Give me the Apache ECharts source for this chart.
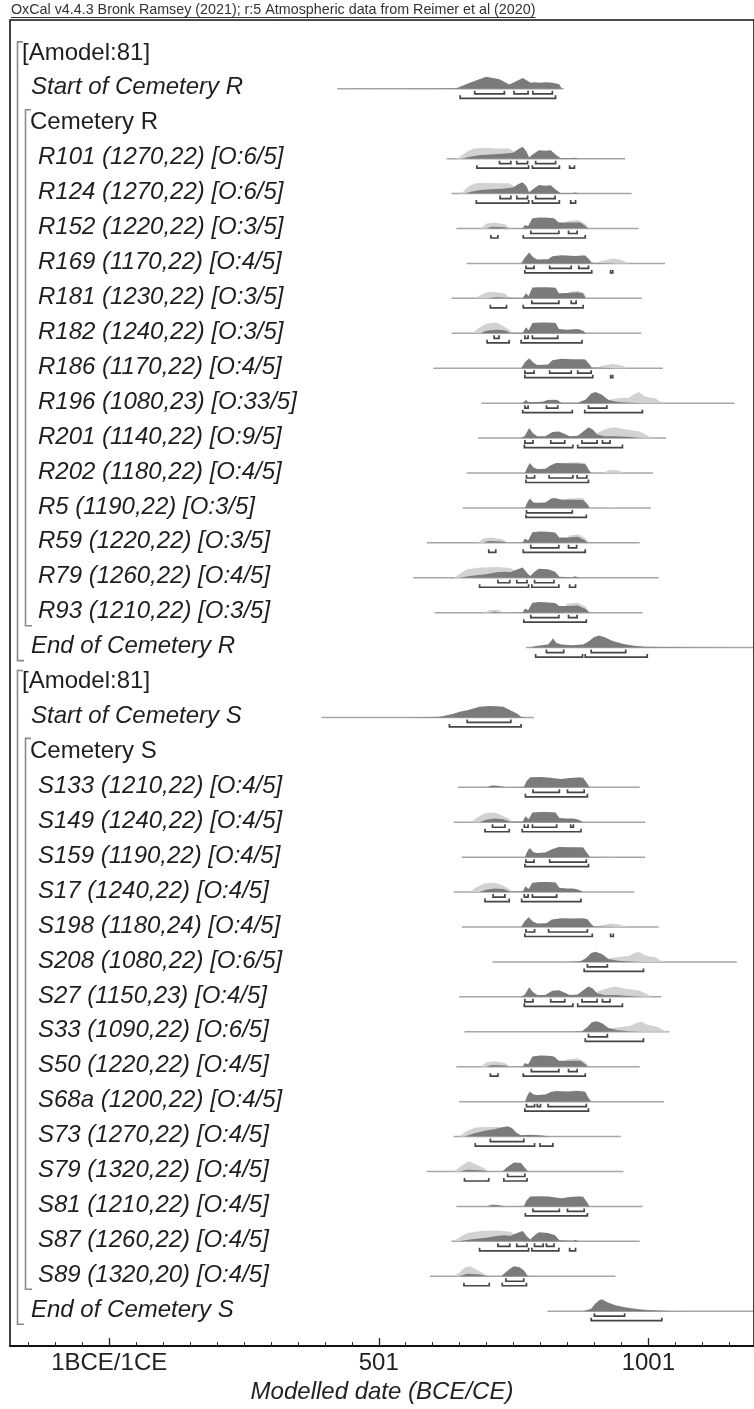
<!DOCTYPE html>
<html><head><meta charset="utf-8">
<script src="https://cdn.jsdelivr.net/npm/echarts@6/dist/echarts.min.js"></script>
<style>html,body{margin:0;padding:0;background:#fff}#c{width:754px;height:1409px}</style>
</head><body><div id="c"></div>
<script>
// ---------------- DATA ----------------
const titleText = 'OxCal v4.4.3 Bronk Ramsey (2021); r:5 Atmospheric data from Reimer et al (2020)';
const axisTitle = 'Modelled date (BCE/CE)';
const tickMajor = [1, 501, 1001];
const tickLabels = ['1BCE/1CE', '501', '1001'];
const tickMinor = [-149,-99,-49,51,101,151,201,251,301,351,401,451,551,601,651,701,751,801,851,901,951,1051,1101,1151];

const rowLabels = [
  '[Amodel:81]','Start of Cemetery R','Cemetery R',
  'R101 (1270,22) [O:6/5]','R124 (1270,22) [O:6/5]','R152 (1220,22) [O:3/5]','R169 (1170,22) [O:4/5]',
  'R181 (1230,22) [O:3/5]','R182 (1240,22) [O:3/5]','R186 (1170,22) [O:4/5]','R196 (1080,23) [O:33/5]',
  'R201 (1140,22) [O:9/5]','R202 (1180,22) [O:4/5]','R5 (1190,22) [O:3/5]','R59 (1220,22) [O:3/5]',
  'R79 (1260,22) [O:4/5]','R93 (1210,22) [O:3/5]','End of Cemetery R',
  '[Amodel:81]','Start of Cemetery S','Cemetery S',
  'S133 (1210,22) [O:4/5]','S149 (1240,22) [O:4/5]','S159 (1190,22) [O:4/5]','S17 (1240,22) [O:4/5]',
  'S198 (1180,24) [O:4/5]','S208 (1080,22) [O:6/5]','S27 (1150,23) [O:4/5]','S33 (1090,22) [O:6/5]',
  'S50 (1220,22) [O:4/5]','S68a (1200,22) [O:4/5]','S73 (1270,22) [O:4/5]','S79 (1320,22) [O:4/5]',
  'S81 (1210,22) [O:4/5]','S87 (1260,22) [O:4/5]','S89 (1320,20) [O:4/5]','End of Cemetery S'
];
// g = model group, p = phase, b = boundary, d = dated sample
const rowKinds = ['g','b','p','d','d','d','d','d','d','d','d','d','d','d','d','d','d','b',
                  'g','b','p','d','d','d','d','d','d','d','d','d','d','d','d','d','d','d','b'];
const groupSpans = [[0,17],[18,36]];
const phaseSpans = [[2,16],[20,35]];

// extent of each plotted distribution (years)
const ranges = {
  1:[424,844], 3:[627,958], 4:[636,970], 5:[645,983], 6:[664,1032], 7:[636,989], 8:[636,988], 9:[602,1028],
  10:[691,1161], 11:[685,1034], 12:[664,1010], 13:[657,1006], 14:[590,985], 15:[565,1020], 16:[605,990],
  17:[774,1195], 19:[395,789], 21:[648,985], 22:[640,995], 23:[655,995], 24:[640,975], 25:[655,1020],
  26:[712,1165], 27:[650,1025], 28:[660,1040], 29:[645,985], 30:[650,1030], 31:[640,950], 32:[590,955],
  33:[645,990], 34:[636,985], 35:[596,940], 36:[814,1195]
};

// unmodelled (likelihood) densities: [year, relative height]
const lightDist = {
  3:[[640,0],[648,0.05],[665,0.6],[678,0.85],[700,0.9],[720,0.85],[743,0.85],[755,0.5],[765,0.1],[775,0]],
  4:[[645,0],[655,0.05],[668,0.6],[680,0.85],[700,0.88],[720,0.85],[743,0.85],[755,0.5],[765,0.1],[775,0]],
  5:[[690,0],[700,0.4],[715,0.5],[735,0.35],[745,0],[840,0],[850,0.6],[870,0.7],[884,0.4],[890,0]],
  6:[[900,0],[915,0.2],[935,0.4],[950,0.3],[965,0]],
  7:[[680,0],[691,0.3],[705,0.55],[720,0.5],[735,0.4],[745,0],[845,0],[855,0.55],[870,0.6],[880,0.5],[888,0]],
  8:[[675,0],[685,0.4],[700,0.8],[719,0.9],[730,0.65],[743,0.3],[750,0]],
  9:[[900,0],[915,0.2],[935,0.35],[950,0.25],[965,0]],
  10:[[915,0],[930,0.3],[950,0.42],[965,0.45],[975,0.75],[983,0.92],[995,0.55],[1005,0.45],[1013,0.42],[1022,0.15],[1030,0]],
  11:[[895,0],[905,0.4],[920,0.7],[932,0.85],[940,0.9],[955,0.75],[970,0.65],[985,0.55],[1000,0.2],[1008,0]],
  12:[[840,0],[850,0.85],[870,0.9],[884,0.8],[892,0],[915,0],[930,0.25],[945,0.2],[955,0]],
  13:[[840,0],[850,0.75],[870,0.83],[880,0.8],[890,0.2],[895,0],[925,0],[935,0.08],[945,0]],
  14:[[685,0],[695,0.35],[712,0.45],[730,0.3],[742,0],[845,0],[855,0.6],[872,0.7],[884,0.4],[890,0]],
  15:[[640,0],[650,0.3],[665,0.7],[690,0.85],[720,0.9],[745,0.8],[760,0.4],[770,0]],
  16:[[695,0],[705,0.2],[720,0.25],[735,0],[840,0],[850,0.75],[870,0.82],[885,0.5],[892,0]],
  21:[[700,0],[710,0.15],[722,0.12],[730,0],[860,0],[870,0.85],[880,0.8],[888,0]],
  22:[[672,0],[683,0.4],[698,0.75],[715,0.8],[728,0.6],[742,0.3],[750,0]],
  23:[[850,0],[860,0.85],[880,0.83],[892,0],[920,0],[930,0.08],[940,0]],
  24:[[670,0],[682,0.4],[697,0.72],[715,0.78],[728,0.6],[742,0.3],[750,0]],
  25:[[900,0],[915,0.15],[932,0.3],[948,0.2],[962,0]],
  26:[[915,0],[930,0.3],[950,0.42],[965,0.5],[975,0.75],[983,0.85],[995,0.55],[1005,0.45],[1013,0.4],[1022,0.15],[1030,0]],
  27:[[895,0],[905,0.4],[920,0.65],[932,0.8],[940,0.85],[955,0.7],[970,0.6],[985,0.5],[1000,0.2],[1008,0]],
  28:[[915,0],[930,0.3],[950,0.4],[968,0.5],[978,0.7],[988,0.85],[998,0.6],[1010,0.5],[1020,0.35],[1030,0.1],[1040,0]],
  29:[[690,0],[700,0.35],[715,0.45],[735,0.3],[745,0],[840,0],[850,0.6],[870,0.7],[884,0.4],[890,0]],
  30:[[850,0],[860,0.9],[880,0.9],[890,0.3],[895,0]],
  31:[[650,0],[662,0.4],[680,0.75],[700,0.8],[720,0.8],[740,0.75],[750,0.4],[760,0]],
  32:[[640,0],[655,0.5],[668,0.85],[680,0.6],[695,0.3],[705,0],[730,0],[745,0.4],[760,0.5],[770,0.2],[778,0]],
  33:[[700,0],[710,0.15],[722,0.12],[730,0],[860,0],[870,0.85],[880,0.8],[888,0]],
  34:[[640,0],[650,0.3],[665,0.7],[690,0.85],[720,0.9],[745,0.8],[760,0.4],[770,0]],
  35:[[640,0],[650,0.3],[660,0.7],[670,0.83],[680,0.6],[690,0.35],[700,0.1],[710,0]]
};

// modelled (posterior) densities: [year, relative height]
const darkDist = {
  1:[[440,0],[600,0.02],[645,0.05],[670,0.5],[700,1.0],[725,0.8],[743,0.35],[755,0.6],[768,0.9],[775,0.7],[783,0.5],[790,0.55],[800,0.5],[812,0.55],[823,0.5],[835,0.4],[841,0]],
  3:[[655,0],[670,0.15],[690,0.3],[710,0.35],[730,0.4],[750,0.5],[760,0.8],[768,0.98],[775,0.6],[780,0.1],[785,0.3],[798,0.7],[810,0.65],[820,0.7],[830,0.3],[838,0.05],[860,0.05],[866,0.08],[872,0]],
  4:[[660,0],[672,0.15],[690,0.3],[710,0.35],[730,0.4],[750,0.5],[760,0.8],[768,0.95],[775,0.6],[780,0.1],[785,0.3],[798,0.72],[810,0.65],[820,0.7],[830,0.3],[838,0.05],[860,0.05],[866,0.08],[872,0]],
  5:[[700,0],[710,0.15],[735,0.1],[745,0],[768,0.02],[772,0.3],[778,0.2],[786,0.85],[800,0.92],[815,0.9],[826,0.85],[835,0.5],[845,0.5],[860,0.5],[875,0.5],[884,0.2],[890,0]],
  6:[[765,0],[772,0.5],[780,0.9],[788,0.5],[795,0.33],[815,0.35],[823,0.6],[840,0.68],[866,0.62],[878,0.65],[884,0.65],[892,0.3],[896,0.05],[930,0.02],[940,0]],
  7:[[700,0],[720,0.1],[740,0.05],[768,0.02],[774,0.42],[779,0.2],[786,0.9],[800,0.92],[815,0.92],[829,0.88],[835,0.42],[850,0.45],[870,0.5],[880,0.4],[885,0]],
  8:[[690,0],[700,0.2],[719,0.3],[735,0.25],[745,0.05],[768,0.05],[774,0.5],[779,0.25],[786,0.85],[800,0.9],[815,0.9],[829,0.85],[835,0.35],[850,0.3],[870,0.35],[880,0.2],[885,0]],
  9:[[765,0],[772,0.5],[780,0.83],[788,0.45],[795,0.27],[815,0.3],[823,0.65],[840,0.78],[860,0.75],[878,0.75],[884,0.72],[892,0.3],[896,0.05],[930,0.02],[940,0]],
  10:[[765,0],[770,0.1],[774,0.28],[778,0.1],[790,0.1],[805,0.12],[814,0.25],[825,0.27],[832,0.25],[840,0.03],[870,0.03],[885,0.3],[895,0.8],[903,0.92],[915,0.7],[927,0.25],[945,0.1],[960,0.05],[990,0]],
  11:[[765,0],[772,0.2],[780,0.83],[787,0.4],[795,0.15],[810,0.15],[823,0.5],[835,0.55],[843,0.4],[855,0.15],[870,0.2],[882,0.6],[890,0.9],[898,0.7],[906,0.3],[920,0.15],[940,0.15],[960,0.1],[990,0]],
  12:[[772,0],[776,0.4],[781,0.83],[788,0.45],[795,0.33],[810,0.35],[820,0.65],[830,0.83],[850,0.8],[870,0.78],[884,0.75],[890,0.3],[895,0]],
  13:[[772,0],[776,0.4],[781,0.78],[788,0.45],[795,0.42],[810,0.45],[820,0.75],[826,0.83],[840,0.7],[860,0.68],[880,0.65],[888,0.3],[892,0]],
  14:[[695,0],[705,0.15],[730,0.12],[742,0],[768,0.02],[772,0.35],[778,0.2],[786,0.88],[800,0.95],[815,0.92],[828,0.85],[836,0.45],[850,0.45],[870,0.5],[884,0.2],[890,0]],
  15:[[650,0],[670,0.15],[700,0.3],[720,0.45],[735,0.5],[745,0.45],[755,0.65],[768,0.85],[776,0.4],[782,0.15],[790,0.5],[798,0.75],[815,0.7],[828,0.5],[836,0.08],[860,0.05],[866,0.12],[872,0]],
  16:[[705,0],[715,0.08],[735,0],[768,0.02],[772,0.35],[778,0.2],[786,0.82],[800,0.88],[815,0.85],[828,0.8],[836,0.55],[850,0.55],[870,0.6],[885,0.3],[892,0]],
  17:[[780,0],[795,0.15],[815,0.25],[820,0.5],[824,0.78],[830,0.4],[840,0.25],[860,0.2],[880,0.25],[890,0.5],[900,0.85],[909,1.0],[920,0.85],[935,0.55],[955,0.3],[975,0.15],[995,0.08],[1030,0.04],[1080,0.02],[1150,0.01],[1190,0]],
  19:[[560,0],[614,0.05],[640,0.3],[651,0.48],[665,0.6],[688,0.88],[705,0.95],[720,0.92],[732,0.88],[745,0.6],[758,0.3],[765,0.05],[775,0]],
  21:[[700,0],[712,0.14],[725,0.1],[735,0],[770,0.02],[775,0.5],[782,0.83],[800,0.85],[815,0.82],[826,0.75],[840,0.68],[855,0.78],[870,0.82],[880,0.8],[888,0.3],[892,0]],
  22:[[688,0],[700,0.2],[716,0.3],[732,0.25],[744,0.05],[768,0.05],[773,0.5],[779,0.25],[786,0.8],[800,0.85],[815,0.85],[829,0.8],[836,0.35],[850,0.3],[862,0.3],[872,0.2],[880,0]],
  23:[[772,0],[776,0.45],[781,0.75],[788,0.4],[795,0.35],[810,0.38],[822,0.65],[835,0.85],[860,0.82],[880,0.8],[888,0.3],[893,0]],
  24:[[688,0],[700,0.2],[716,0.3],[732,0.25],[744,0.05],[768,0.05],[773,0.48],[779,0.25],[786,0.78],[800,0.83],[815,0.83],[829,0.8],[836,0.35],[850,0.3],[862,0.3],[872,0.2],[880,0]],
  25:[[765,0],[772,0.5],[779,0.8],[787,0.45],[795,0.3],[812,0.32],[822,0.62],[840,0.72],[860,0.7],[880,0.72],[888,0.65],[895,0.25],[900,0.04],[930,0.03],[940,0]],
  26:[[850,0],[875,0.05],[885,0.3],[895,0.75],[903,0.85],[915,0.65],[927,0.25],[945,0.1],[960,0.05],[990,0]],
  27:[[765,0],[772,0.2],[780,0.8],[787,0.4],[795,0.15],[810,0.15],[823,0.5],[835,0.55],[843,0.4],[855,0.15],[870,0.2],[882,0.6],[890,0.85],[898,0.7],[906,0.3],[920,0.15],[940,0.15],[960,0.1],[990,0]],
  28:[[860,0],[878,0.05],[888,0.4],[896,0.8],[905,0.88],[915,0.7],[928,0.3],[945,0.12],[965,0.05],[990,0]],
  29:[[700,0],[710,0.15],[735,0.1],[745,0],[768,0.02],[772,0.3],[778,0.2],[786,0.85],[800,0.92],[815,0.9],[826,0.85],[835,0.5],[845,0.5],[860,0.5],[875,0.5],[884,0.2],[890,0]],
  30:[[772,0],[776,0.45],[781,0.85],[788,0.6],[795,0.55],[810,0.6],[820,0.8],[830,0.88],[850,0.85],[870,0.88],[884,0.82],[890,0.3],[895,0]],
  31:[[660,0],[680,0.3],[700,0.5],[715,0.6],[728,0.75],[740,0.85],[748,0.7],[757,0.3],[765,0.1],[780,0.15],[800,0.1],[820,0]],
  32:[[650,0],[665,0.15],[690,0.1],[710,0],[730,0],[740,0.4],[752,0.75],[765,0.7],[772,0.3],[778,0]],
  33:[[700,0],[712,0.14],[725,0.1],[735,0],[770,0.02],[775,0.5],[782,0.83],[800,0.85],[815,0.82],[826,0.75],[840,0.68],[855,0.78],[870,0.82],[880,0.8],[888,0.3],[892,0]],
  34:[[650,0],[670,0.15],[700,0.3],[720,0.45],[735,0.5],[745,0.45],[755,0.65],[768,0.85],[776,0.4],[782,0.15],[790,0.5],[798,0.75],[815,0.7],[828,0.5],[836,0.08],[860,0.05],[866,0.12],[872,0]],
  35:[[650,0],[665,0.2],[688,0.15],[700,0.05],[712,0],[728,0],[737,0.35],[745,0.65],[752,0.83],[762,0.75],[770,0.5],[776,0.1],[780,0]],
  36:[[880,0],[895,0.2],[902,0.6],[910,0.9],[915,0.98],[925,0.75],[940,0.5],[960,0.3],[980,0.18],[1000,0.1],[1020,0.05],[1040,0.02],[1080,0]]
};

// 68.3% and 95.4% highest posterior density ranges
const range68 = {
  1:[[679,734],[752,778],[787,823]], 3:[[725,746],[757,777],[792,829]], 4:[[726,746],[757,777],[792,828]],
  5:[[783,835],[853,869]], 6:[[774,789],[818,858],[872,890]], 7:[[785,835],[858,867]],
  8:[[715,724],[772,778],[786,833]], 9:[[772,789],[818,858],[870,895]], 10:[[772,778],[812,833],[890,924]],
  11:[[772,787],[820,846],[878,906],[916,930]], 12:[[775,790],[817,861],[869,887]], 13:[[775,860]],
  14:[[783,835],[853,868]], 15:[[722,744],[757,776],[790,826]], 16:[[783,835],[853,869]],
  17:[[812,844],[895,959]], 19:[[665,746]], 21:[[787,836],[851,882]],
  22:[[712,735],[771,778],[786,831],[857,862]], 23:[[774,789],[818,886]], 24:[[713,735],[771,778],[786,831]],
  25:[[774,790],[816,888]], 26:[[888,925]], 27:[[772,787],[820,846],[878,906],[916,930]], 28:[[890,925]],
  29:[[784,835],[853,869]], 30:[[775,790],[795,801],[815,886]], 31:[[708,770]], 32:[[740,772]],
  33:[[787,836],[851,882]], 34:[[722,744],[757,776],[790,806],[812,826]], 35:[[737,770]], 36:[[901,957]]
};
const range95 = {
  1:[[652,829]], 3:[[683,779],[786,836],[855,864]], 4:[[682,779],[786,836],[857,866]],
  5:[[709,722],[769,884]], 6:[[772,896],[931,935]], 7:[[708,738],[769,880]],
  8:[[702,743],[765,878]], 9:[[772,898],[931,935]], 10:[[768,860],[883,990]],
  11:[[771,861],[870,953]], 12:[[774,890]], 13:[[774,886]], 14:[[705,718],[769,884]],
  15:[[688,779],[785,835],[855,866]], 16:[[770,886]], 17:[[792,879],[884,999]], 19:[[632,765]],
  21:[[773,888]], 22:[[698,743],[767,876]], 23:[[772,890]], 24:[[698,743],[766,876]],
  25:[[772,897],[931,936]], 26:[[882,992]], 27:[[771,861],[870,953]], 28:[[884,992]],
  29:[[708,722],[769,884]], 30:[[772,890]], 31:[[680,790],[800,824]], 32:[[660,705],[733,776]],
  33:[[773,888]], 34:[[688,779],[785,835],[855,866]], 35:[[659,706],[730,775]], 36:[[895,1026]]
};

// ---------------- CHART ----------------
const FONT = '"Liberation Sans", Arial, Helvetica, sans-serif';
const TITLE_FONT = '14.3px ' + FONT;
const chart = echarts.init(document.getElementById('c'), null, {renderer: 'canvas'});
const rowIdx = rowLabels.map((_, i) => [0, i]);

function renderRow(params, api) {
  const i = api.value(1);
  const base = api.coord([0, i])[1];
  const rowPx = api.size([0, 1])[1];
  const hScale = rowPx * 0.345;
  const X = yr => api.coord([yr, i])[0];
  const ch = [];
  const rg = ranges[i];
  if (rg) ch.push({type: 'line', shape: {x1: X(rg[0]), y1: base, x2: X(rg[1]), y2: base},
                   style: {stroke: '#a6a6a6', lineWidth: 1.5}});
  const poly = (pts, color) => ({type: 'polygon',
    shape: {points: pts.map(p => [X(p[0]), base - p[1] * hScale])}, style: {fill: color}});
  if (lightDist[i]) ch.push(poly(lightDist[i], '#d2d2d2'));
  if (darkDist[i]) ch.push(poly(darkDist[i], '#7b7b7b'));
  const bracket = (r, off) => {
    const x1 = X(r[0]), x2 = X(r[1]), y = base + off;
    return {type: 'polyline', shape: {points: [[x1, y - 3], [x1, y], [x2, y], [x2, y - 3]]},
            style: {stroke: '#454545', lineWidth: 1.7, fill: null}};
  };
  (range68[i] || []).forEach(r => ch.push(bracket(r, 5)));
  (range95[i] || []).forEach(r => ch.push(bracket(r, 9.5)));
  return {type: 'group', children: ch};
}

function renderLabel(params, api) {
  const i = api.value(1);
  const base = api.coord([0, i])[1];
  const k = rowKinds[i];
  const x = k === 'g' ? 22 : (k === 'p' ? 30 : (k === 'b' ? 31 : 38));
  const italic = (k === 'b' || k === 'd');
  return {type: 'text', x: x, y: base - 1,
    style: {text: rowLabels[i], fill: '#1e1e1e', align: 'left', verticalAlign: 'middle',
            font: (italic ? 'italic ' : '') + '24px ' + FONT}};
}

function renderBrackets(params, api) {
  const ch = [];
  const Y = r => api.coord([0, r])[1];
  groupSpans.forEach(s => {
    const t = Y(s[0]) - 12, b = Y(s[1]) + 13;
    ch.push({type: 'polyline', shape: {points: [[23, t], [17.5, t], [17.5, b], [24, b]]},
             style: {stroke: '#8a8a8a', lineWidth: 1.6, fill: null}});
  });
  phaseSpans.forEach(s => {
    const t = Y(s[0]) - 14, b = Y(s[1]) + 13;
    ch.push({type: 'polyline', shape: {points: [[31, t], [25.5, t], [25.5, b], [32, b]]},
             style: {stroke: '#8a8a8a', lineWidth: 1.6, fill: null}});
  });
  return {type: 'group', children: ch};
}

// measure title width for the underline
const mctx = document.createElement('canvas').getContext('2d');
mctx.font = TITLE_FONT;
const titleW = mctx.measureText(titleText).width;

const axisCommon = {
  type: 'value', min: -183, max: 1197, position: 'bottom',
  splitLine: {show: false},
  axisLine: {show: true, onZero: false, lineStyle: {color: '#111', width: 1.6}}
};

chart.setOption({
  animation: false,
  backgroundColor: '#fff',
  grid: {left: 10, right: -6, top: 20, bottom: 57, show: true, borderColor: '#111', borderWidth: 1.6,
         containLabel: false},
  xAxis: [
    Object.assign({}, axisCommon, {
      axisTick: {show: true, inside: true, length: 4, lineStyle: {color: '#222', width: 1}, customValues: tickMinor},
      axisLabel: {show: false}
    }),
    Object.assign({}, axisCommon, {
      axisTick: {show: true, inside: true, length: 8, lineStyle: {color: '#222', width: 1.3}, customValues: tickMajor},
      axisLabel: {show: true, customValues: tickMajor, margin: 5, color: '#222', fontSize: 24, fontFamily: FONT,
                  formatter: v => tickLabels[tickMajor.indexOf(v)] || ''},
      name: axisTitle, nameLocation: 'middle', nameGap: 32,
      nameTextStyle: {fontSize: 24, fontStyle: 'italic', fontFamily: FONT, color: '#222'}
    })
  ],
  yAxis: {type: 'value', inverse: true, min: -0.97, max: 37.0, show: false},
  graphic: [
    {type: 'text', left: 11, top: 3, style: {text: titleText, font: TITLE_FONT, fill: '#333'}},
    {type: 'line', shape: {x1: 11, y1: 17.5, x2: 11 + titleW, y2: 17.5}, style: {stroke: '#333', lineWidth: 1}}
  ],
  series: [
    {type: 'custom', coordinateSystem: 'cartesian2d', xAxisIndex: 0, renderItem: renderRow, data: rowIdx,
     clip: true, silent: true},
    {type: 'custom', coordinateSystem: 'cartesian2d', xAxisIndex: 0, renderItem: renderLabel, data: rowIdx,
     silent: true},
    {type: 'custom', coordinateSystem: 'cartesian2d', xAxisIndex: 0, renderItem: renderBrackets, data: [[0, 0]],
     silent: true}
  ]
});
</script></body></html>
